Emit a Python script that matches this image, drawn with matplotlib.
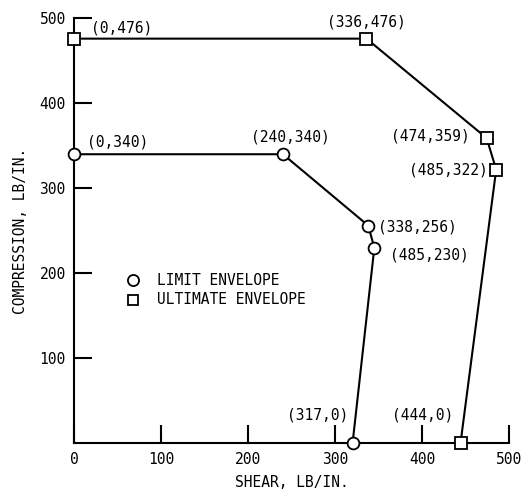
import matplotlib.pyplot as plt

# data
limit_shear = [0, 240, 338, 345, 320]
limit_comp = [340, 340, 256, 230, 0]
ult_shear = [0, 336, 474, 485, 444]
ult_comp = [476, 476, 359, 322, 0]

limit_labels = ['(0,340)', '(240,340)', '(338,256)', '(485,230)', '(317,0)']
ult_labels = ['(0,476)', '(336,476)', '(474,359)', '(485,322)', '(444,0)']

plt.rcParams['font.family'] = ['DejaVu Sans Mono']
plt.rcParams['font.size'] = 10

fig = plt.figure(figsize=(5.25, 4.93), dpi=100)
ax = fig.add_axes([0.141, 0.101, 0.829, 0.862])

ax.plot(ult_shear, ult_comp, color='black', lw=1.5, marker='s', ms=8,
        mfc='white', mec='black', mew=1.3, clip_on=False, zorder=3)
ax.plot(limit_shear, limit_comp, color='black', lw=1.5, marker='o', ms=8.5,
        mfc='white', mec='black', mew=1.3, clip_on=False, zorder=3)

# point labels (x, y, ha)
ult_pos = [(19, 488, 'left'), (336, 496, 'center'), (455, 362, 'right'),
           (475, 322, 'right'), (401, 33, 'center')]
lim_pos = [(15, 354, 'left'), (248, 360, 'center'), (349, 254, 'left'),
           (363, 221, 'left'), (315, 33, 'right')]
for lab, (x, y, ha) in zip(ult_labels, ult_pos):
    ax.text(x, y, lab, ha=ha, va='center', fontsize=10.5)
for lab, (x, y, ha) in zip(limit_labels, lim_pos):
    ax.text(x, y, lab, ha=ha, va='center', fontsize=10.5)

# legend
ax.plot([68], [192], marker='o', ms=8, mfc='white', mec='black', mew=1.3, ls='none')
ax.plot([68], [169], marker='s', ms=7, mfc='white', mec='black', mew=1.3, ls='none')
ax.text(95, 192, 'LIMIT ENVELOPE', va='center', fontsize=10.5)
ax.text(95, 169, 'ULTIMATE ENVELOPE', va='center', fontsize=10.5)

ax.set_xlim(0, 500)
ax.set_ylim(0, 500)
ax.set_xticks([0, 100, 200, 300, 400, 500])
ax.set_yticks([100, 200, 300, 400, 500])
ax.tick_params(direction='in', length=13, width=1.5, labelsize=10.5, pad=6)
ax.spines['top'].set_visible(False)
ax.spines['right'].set_visible(False)
ax.spines['left'].set_linewidth(1.5)
ax.spines['bottom'].set_linewidth(1.5)

ax.set_xlabel('SHEAR, LB/IN.', fontsize=10.5, labelpad=6)
ax.set_ylabel('COMPRESSION, LB/IN.', fontsize=10.5, labelpad=8)

fig.savefig('out.png', dpi=100)
